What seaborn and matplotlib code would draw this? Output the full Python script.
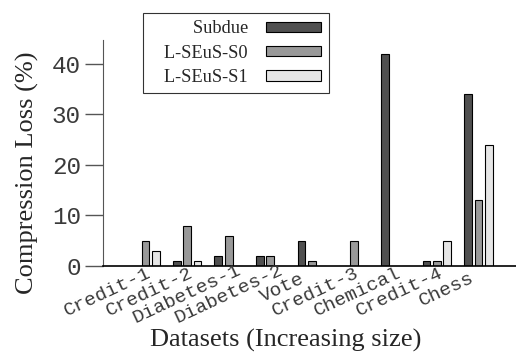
import pandas as pd
import numpy as np
import matplotlib
matplotlib.use("Agg")
import matplotlib.pyplot as plt
import matplotlib.transforms as mtransforms
import seaborn as sns

# data
datasets = ['Credit-1', 'Credit-2', 'Diabetes-1', 'Diabetes-2', 'Vote',
            'Credit-3', 'Chemical', 'Credit-4', 'Chess']
methods = ['Subdue', 'L-SEuS-S0', 'L-SEuS-S1']
subdue = [0, 1, 2, 2, 5, 0, 42, 1, 34]
seus_s0 = [5, 8, 6, 2, 1, 5, 0, 1, 13]
seus_s1 = [3, 1, 0, 0, 0, 0, 0, 5, 24]
colors = ['#505050', '#999999', '#e6e6e6']

df = pd.DataFrame({
    'Dataset': datasets * 3,
    'Method': [m for m in methods for _ in datasets],
    'Loss': subdue + seus_s0 + seus_s1,
})

sns.set_style('ticks')
serif = 'Liberation Serif'
mono = 'Liberation Mono'

fig = plt.figure(figsize=(5.16, 3.62), dpi=100)
ax = fig.add_axes([103/516, 96/362, (516-103)/516, (266-40)/362])

sns.barplot(data=df, x='Dataset', y='Loss', hue='Method', order=datasets,
            hue_order=methods, palette=colors, width=0.75, gap=0.25,
            edgecolor='black', linewidth=0.8, ax=ax, legend=True)

ax.set_xlim(-1.02, 8.9)
ax.set_ylim(0, 44.7)
ax.set_yticks([0, 10, 20, 30, 40])
ax.tick_params(axis='y', length=13, width=1, color='#555555', labelsize=17.5, pad=3)
ax.tick_params(axis='x', length=0)
for lab in ax.get_yticklabels():
    lab.set_fontfamily(mono)
    lab.set_color('#3a3a3a')
ax.set_xticklabels([])

# gnuplot-style rotated labels: the anchor drifts with label length
trans = mtransforms.blended_transform_factory(ax.transData, ax.transAxes)
for i, name in enumerate(datasets):
    dx = -26 + 3.4 * len(name)
    dy = -(-1 - 0.466 * dx)
    off = mtransforms.ScaledTranslation(dx / 100, dy / 100, fig.dpi_scale_trans)
    ax.text(i, 0, name, transform=trans + off, rotation=25, rotation_mode='anchor',
            ha='right', va='top', fontfamily=mono, fontsize=14, color='#3a3a3a')

sns.despine(ax=ax)
ax.spines['left'].set_color('#555555')
ax.spines['bottom'].set_color('black')
ax.spines['bottom'].set_linewidth(1.2)

ax.set_xlabel('Datasets (Increasing size)', fontfamily=serif, fontsize=19, va='center')
ax.set_ylabel('Compression Loss (%)', fontfamily=serif, fontsize=19, va='center')
ax.xaxis.set_label_coords(0.443, (266 - 340) / 226)
ax.yaxis.set_label_coords((27 - 103) / 413, (266 - 173) / 226)

ax.legend_.remove()
handles, labels = ax.get_legend_handles_labels()
labels = ['   ' + l for l in labels]
leg = fig.legend(handles, labels, loc='upper left', bbox_to_anchor=(143/516, 1 - 13/362),
                 markerfirst=False, frameon=True, fancybox=False, edgecolor='black',
                 prop={'family': serif, 'size': 13.2}, handlelength=3.0, handleheight=0.47,
                 labelspacing=0.4, borderpad=0.4, handletextpad=1.0, borderaxespad=0)
leg.get_frame().set_linewidth(0.8)
for t in leg.get_texts():
    t.set_ha('right')

fig.savefig('out.png', dpi=100)
